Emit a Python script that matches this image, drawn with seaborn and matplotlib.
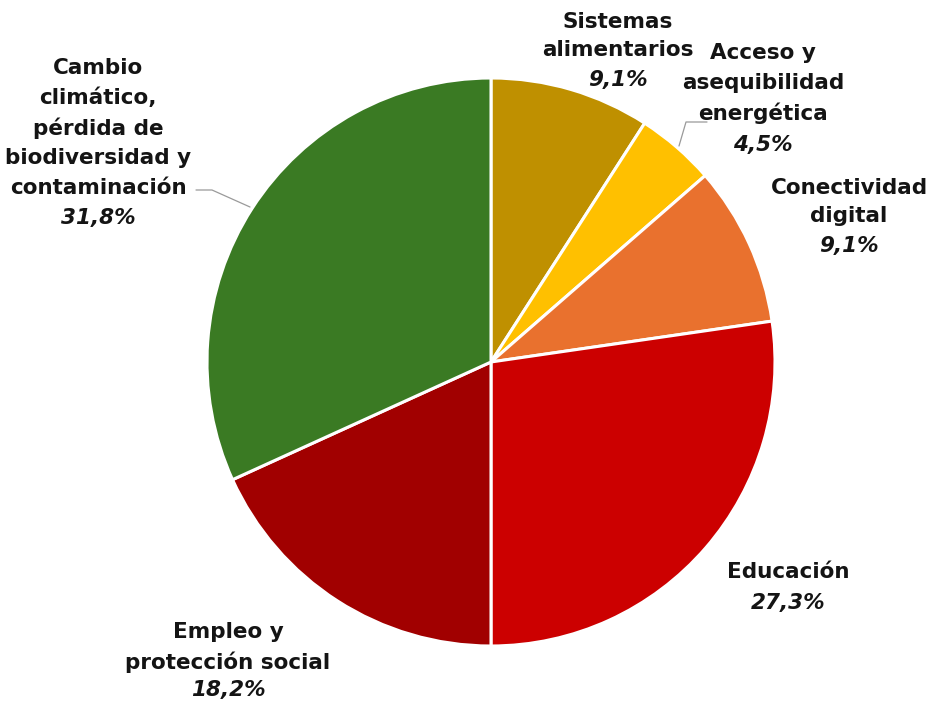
import matplotlib
matplotlib.use("Agg")
import matplotlib.pyplot as plt
import seaborn as sns

# ---- data ----
categories = ["Sistemas\nalimentarios", "Acceso y\nasequibilidad\nenergética",
              "Conectividad\ndigital", "Educación", "Empleo y\nprotección social",
              "Cambio\nclimático,\npérdida de\nbiodiversidad y\ncontaminación"]
values = [9.1, 4.5, 9.1, 27.3, 18.2, 31.8]
pct_labels = ["9,1%", "4,5%", "9,1%", "27,3%", "18,2%", "31,8%"]
colors = ["#BF9000", "#FFC000", "#E9712E", "#CC0000", "#A10000", "#3A7A23"]

sns.set_theme(style="white")
plt.rcParams['font.family'] = ['DejaVu Sans']

W, H = 935, 702
fig = plt.figure(figsize=(W / 100, H / 100), dpi=100)
ax = fig.add_axes([0, 0, 1, 1])

cx, cy, r = 491, H - 362, 284
ax.pie(values, colors=colors, startangle=90, counterclock=False,
       center=(cx, cy), radius=r, frame=True,
       wedgeprops=dict(edgecolor="white", linewidth=2.2))
ax.set_xlim(0, W)
ax.set_ylim(0, H)
ax.set_aspect("equal")
ax.axis("off")

# label layout: (center x, first line y from top, line step, pct y from top)
layout = [
    (618, 22, 28, 80),
    (763, 53, 30, 145),
    (849, 188, 28, 246),
    (788, 572, 30, 603),
    (228, 632, 30, 690),
    (98, 68, 30, 218),
]
fs = 15.5
for lab, pct, (x, y0, step, yp) in zip(categories, pct_labels, layout):
    for i, line in enumerate(lab.split("\n")):
        ax.text(x, H - (y0 + i * step), line, ha="center", va="center",
                fontsize=fs, fontweight="bold", color="#141414")
    ax.text(x, H - yp, pct, ha="center", va="center", fontsize=fs,
            fontweight="bold", fontstyle="italic", color="#141414")

# leader lines
lc = "#9a9a9a"
ax.plot([707, 686, 679], [H - 122, H - 122, H - 146], color=lc, lw=0.9)
ax.plot([196, 212, 250], [H - 190, H - 190, H - 207], color=lc, lw=0.9)

fig.savefig("out.png", dpi=100)
